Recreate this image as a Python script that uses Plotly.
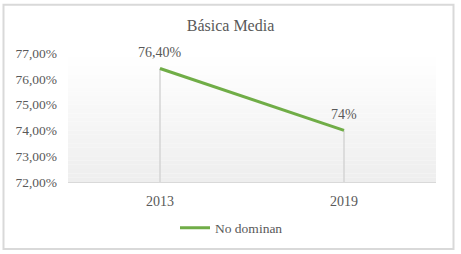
import plotly.graph_objects as go

years = ["2013", "2019"]
no_dominan = [0.764, 0.74]
labels = ["76,40%", "74%"]
y_ticks = [0.72, 0.73, 0.74, 0.75, 0.76, 0.77]

W, H = 461, 254
L, R, T, B = 68, 25, 53, 71
pw, ph = W - L - R, H - T - B
y_min, y_max = 0.72, 0.77

TXT = "#595959"
FONT = "Liberation Serif"

fig = go.Figure()

# drop lines from each point to the axis
dx, dy = [], []
for yr, v in zip(years, no_dominan):
    dx += [yr, yr, None]
    dy += [v, y_min, None]
fig.add_trace(go.Scatter(x=dx, y=dy, mode="lines", line=dict(color="#d4d4d4", width=1.5),
                         showlegend=False, hoverinfo="skip"))

fig.add_trace(go.Scatter(x=years, y=no_dominan, mode="lines", name="No dominan",
                         line=dict(color="#70AD47", width=3)))

annotations = [dict(x=i, y=v, xref="x", yref="y", text=t, showarrow=False, yshift=16,
                    yanchor="middle", font=dict(family=FONT, size=14, color=TXT))
               for i, (v, t) in enumerate(zip(no_dominan, labels))]

# gradient background of plot area
n = 30
shapes = []
for i in range(n):
    f = i / (n - 1)
    g = int(round(255 - 17 * f))
    shapes.append(dict(type="rect", xref="x domain", yref="y domain",
                       x0=0, x1=1, y0=1 - (i + 1) / n, y1=1 - i / n,
                       fillcolor=f"rgb({g},{g},{g})", line=dict(width=0), layer="below"))

# outer frame
def px2x(p):
    return (p - L) / pw

def py2y(p):
    return (H - B - p) / ph

shapes.append(dict(type="rect", xref="paper", yref="paper",
                   x0=px2x(3.5), x1=px2x(453.5), y0=py2y(250.5), y1=py2y(4.5),
                   line=dict(color="#d9d9d9", width=2), fillcolor="rgba(0,0,0,0)", layer="above"))

fig.update_layout(
    width=W, height=H,
    margin=dict(l=L, r=R, t=T, b=B),
    paper_bgcolor="white", plot_bgcolor="white",
    separators=",.",
    title=dict(text="Básica Media", x=0.5, xref="container", xanchor="center",
               y=1 - 25 / H, yref="container", yanchor="middle",
               font=dict(family=FONT, size=16, color=TXT)),
    xaxis=dict(type="category", range=[-0.5, len(years) - 0.5], showgrid=False, zeroline=False,
               showline=True, linecolor="#d9d9d9", linewidth=1,
               ticks="", tickfont=dict(family=FONT, size=14, color=TXT),
               ticklabelstandoff=6),
    yaxis=dict(range=[y_min, y_max], tickvals=y_ticks, tickformat=".2%",
               showgrid=False, zeroline=False, showline=False, ticks="",
               tickfont=dict(family=FONT, size=13.5, color=TXT),
               ticklabelstandoff=10),
    legend=dict(orientation="h", x=px2x(175), xanchor="left", y=py2y(228), yanchor="middle",
                font=dict(family=FONT, size=13.5, color=TXT), bgcolor="rgba(0,0,0,0)"),
    annotations=annotations,
    shapes=shapes,
)

fig.write_html("out.html")
